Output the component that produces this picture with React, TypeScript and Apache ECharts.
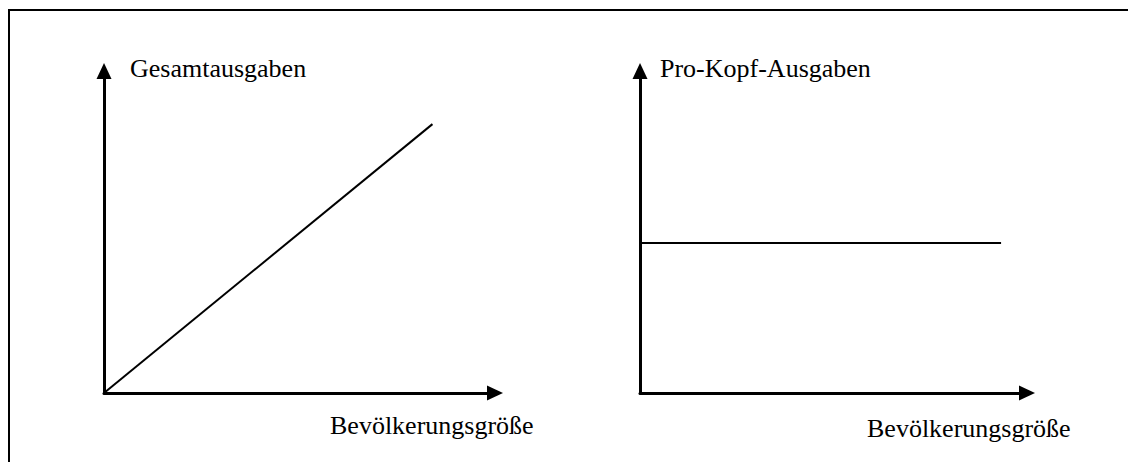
import React, { useEffect, useRef } from "react";
import * as echarts from "echarts";

const leftTitle = "Gesamtausgaben";
const rightTitle = "Pro-Kopf-Ausgaben";
const xTitle = "Bevölkerungsgröße";
// total spending grows proportionally with population
const totalX = [0, 84];
const totalY = [0, 83.5];
// per-capita spending stays constant
const perCapX = [0, 93.3];
const perCapY = [46.6, 46.6];

const FONT = "'Liberation Serif', 'Times New Roman', serif";

export default function App() {
  const ref = useRef<HTMLDivElement>(null);
  useEffect(() => {
    document.body.style.margin = "0";
    document.body.style.overflow = "hidden";
    const chart = echarts.init(ref.current!, null, { renderer: "svg" });
    const axisLine = {
      show: true,
      symbol: ["none", "triangle"],
      symbolSize: [15, 16],
      lineStyle: { color: "#000", width: 3 },
    };
    const hidden = {
      axisTick: { show: false },
      axisLabel: { show: false },
      splitLine: { show: false },
    };
    const mkAxis = (gridIndex: number) => ({
      type: "value",
      gridIndex,
      min: 0,
      max: 100,
      axisLine,
      ...hidden,
    });
    const txt = (text: string, x: number, y: number) => ({
      type: "text",
      x,
      y,
      style: { text, font: `26px ${FONT}`, fill: "#000", verticalAlign: "middle" },
    });
    chart.setOption({
      animation: false,
      backgroundColor: "#fff",
      grid: [
        { left: 104, top: 71, width: 391, height: 322 },
        { left: 640, top: 71, width: 387, height: 322 },
      ],
      xAxis: [mkAxis(0), mkAxis(1)],
      yAxis: [mkAxis(0), mkAxis(1)],
      series: [
        {
          type: "line",
          xAxisIndex: 0,
          yAxisIndex: 0,
          data: totalX.map((x, i) => [x, totalY[i]]),
          symbol: "none",
          lineStyle: { color: "#000", width: 2 },
        },
        {
          type: "line",
          xAxisIndex: 1,
          yAxisIndex: 1,
          data: perCapX.map((x, i) => [x, perCapY[i]]),
          symbol: "none",
          lineStyle: { color: "#000", width: 2 },
        },
      ],
      graphic: [
        {
          type: "line",
          shape: { x1: 9, y1: 9, x2: 9, y2: 462 },
          style: { stroke: "#000", lineWidth: 2 },
        },
        {
          type: "line",
          shape: { x1: 8, y1: 10, x2: 1128, y2: 10 },
          style: { stroke: "#000", lineWidth: 2 },
        },
        txt(leftTitle, 130, 68),
        txt(rightTitle, 660, 68),
        txt(xTitle, 330, 425),
        txt(xTitle, 867, 428),
      ],
    });
    return () => chart.dispose();
  }, []);
  return <div ref={ref} style={{ width: 1128, height: 462 }} />;
}
